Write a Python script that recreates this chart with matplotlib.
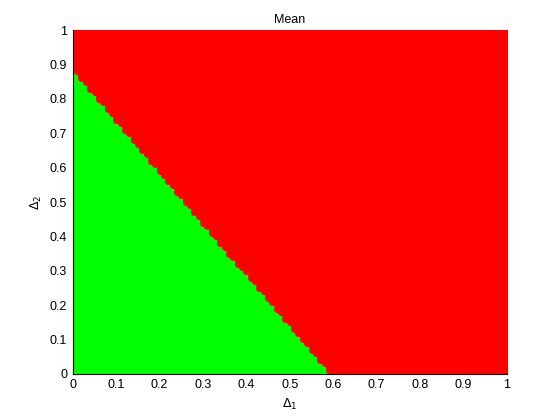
import numpy as np
import matplotlib
matplotlib.use("Agg")
import matplotlib.pyplot as plt

# grid of (delta1, delta2) samples
d1_values = np.linspace(0, 1, 101)
d2_values = np.linspace(0, 1, 101)

# boundary between the two regions
boundary_d1 = [0.0, 0.595]
boundary_d2 = [0.885, 0.0]

D1, D2 = np.meshgrid(d1_values, d2_values)
D1 = D1.ravel()
D2 = D2.ravel()
limit = np.interp(D1, boundary_d1, boundary_d2, right=-1)
green = D2 <= limit

plt.rcParams['font.family'] = ['Liberation Sans', 'DejaVu Sans']
fig = plt.figure(figsize=(5.6, 4.2), dpi=100)
ax = fig.add_axes([0.13, 0.11, 0.775, 0.818])

ax.plot(D1[green], D2[green], 'o', color='#00ff00', markersize=5.0, markeredgewidth=0, clip_on=True)
ax.plot(D1[~green], D2[~green], 'o', color='#ff0000', markersize=5.0, markeredgewidth=0, clip_on=True)

ax.set_xlim(0, 1)
ax.set_ylim(0, 1)
ticks = np.arange(0, 1.01, 0.1)
ax.set_xticks(ticks)
ax.set_yticks(ticks)
ax.set_xticklabels(['0', '0.1', '0.2', '0.3', '0.4', '0.5', '0.6', '0.7', '0.8', '0.9', '1'])
ax.set_yticklabels(['0', '0.1', '0.2', '0.3', '0.4', '0.5', '0.6', '0.7', '0.8', '0.9', '1'])
ax.tick_params(direction='in', labelsize=9, length=4, pad=4)
ax.spines['top'].set_visible(False)
ax.spines['right'].set_visible(False)
ax.spines['left'].set_zorder(5)
ax.spines['bottom'].set_zorder(5)

ax.set_title('Mean', fontsize=9, pad=5)
ax.set_xlabel(r'$\Delta_1$', fontsize=9)
ax.set_ylabel(r'$\Delta_2$', fontsize=9)

fig.savefig('out.png', dpi=100)
